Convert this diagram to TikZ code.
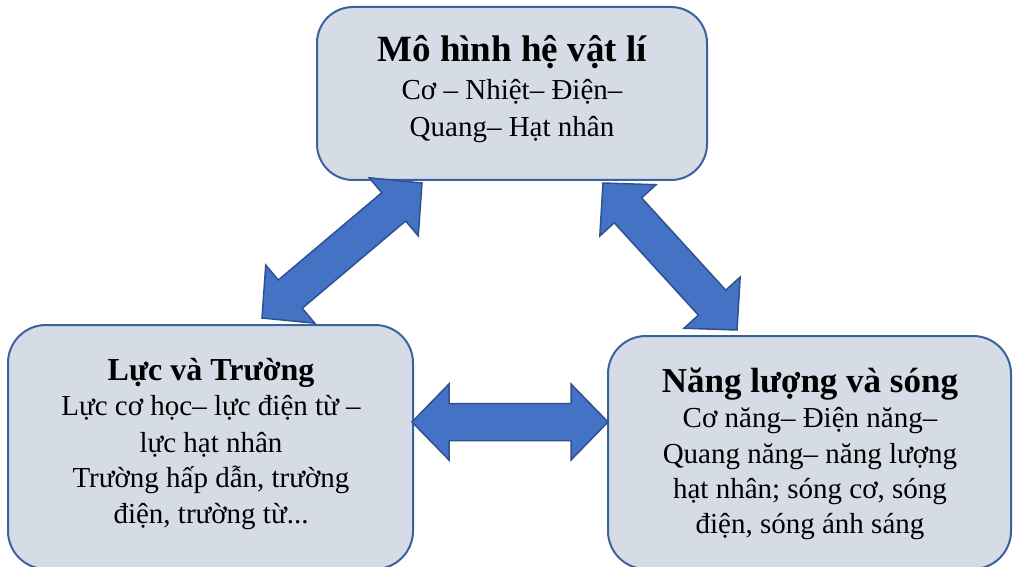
\documentclass[tikz,border=0pt]{standalone}
\usepackage{fontspec}
\setmainfont{Liberation Serif}
\usetikzlibrary{calc}
\definecolor{boxfill}{HTML}{D6DCE5}
\definecolor{boxline}{HTML}{3A62A0}
\definecolor{arrfill}{HTML}{4472C4}
\definecolor{arrline}{HTML}{2F528F}
\tikzset{
  box/.style={draw=boxline, fill=boxfill, line width=2pt, rounded corners=38pt, inner sep=0pt},
  txt/.style={anchor=base, inner sep=0pt, font=\fontsize{29}{29}\selectfont},
  ttl/.style={anchor=base, inner sep=0pt},
  blockarrow/.style={draw=arrline, fill=arrfill, line width=1.5pt, line join=miter},
}
% double block arrow between two named coordinates
\newcommand\dblblock[2]{%
  \draw[blockarrow] let \p1=($(#2)-(#1)$), \n1={atan2(\y1,\x1)}, \n2={veclen(\x1,\y1)} in
    [shift={(#1)}, rotate=\n1]
    (0,0) -- (37,38) -- (37,18.5) -- ({\n2-37},18.5) -- ({\n2-37},38) -- ({\n2},0)
    -- ({\n2-37},-38) -- ({\n2-37},-18.5) -- (37,-18.5) -- (37,-38) -- cycle;}
\begin{document}
\begin{tikzpicture}[x=1pt,y=-1pt]
\path[fill=white, use as bounding box] (0,0) rectangle (1013,567);

\node[box, rounded corners=36pt, minimum width=390pt, minimum height=173pt] (top) at (512,93.5) {};
\node[box, minimum width=405pt, minimum height=244pt] (left) at (210.5,447) {};
\node[box, minimum width=403pt, minimum height=233pt] (right) at (809.5,452.5) {};

\node[ttl, font=\bfseries\fontsize{37}{37}\selectfont] (t0) at (512,62) {Mô hình hệ vật lí};
\node[txt] (t1) at (512,100) {Cơ – Nhiệt– Điện–};
\node[txt] (t2) at (512,137) {Quang– Hạt nhân};

\node[ttl, font=\bfseries\fontsize{32}{32}\selectfont] (l0) at (211,380) {Lực và Trường};
\node[txt] (l1) at (211,415) {Lực cơ học– lực điện từ –};
\node[txt] (l2) at (211,452) {lực hạt nhân};
\node[txt] (l3) at (211,487) {Trường hấp dẫn, trường};
\node[txt] (l4) at (211,523) {điện, trường từ...};

\node[ttl, font=\bfseries\fontsize{35}{35}\selectfont] (r0) at (810,392) {Năng lượng và sóng};
\node[txt] (r1) at (810,427) {Cơ năng– Điện năng–};
\node[txt] (r2) at (810,463) {Quang năng– năng lượng};
\node[txt] (r3) at (810,498) {hạt nhân; sóng cơ, sóng};
\node[txt] (r4) at (810,533) {điện, sóng ánh sáng};

\coordinate (a1) at (262,318);
\coordinate (a2) at (422,183);
\coordinate (b1) at (603,183);
\coordinate (b2) at (737,330);
\coordinate (c1) at (412,422);
\coordinate (c2) at (608,422);

\dblblock{a1}{a2}
\dblblock{b1}{b2}
\dblblock{c1}{c2}
\end{tikzpicture}
\end{document}
